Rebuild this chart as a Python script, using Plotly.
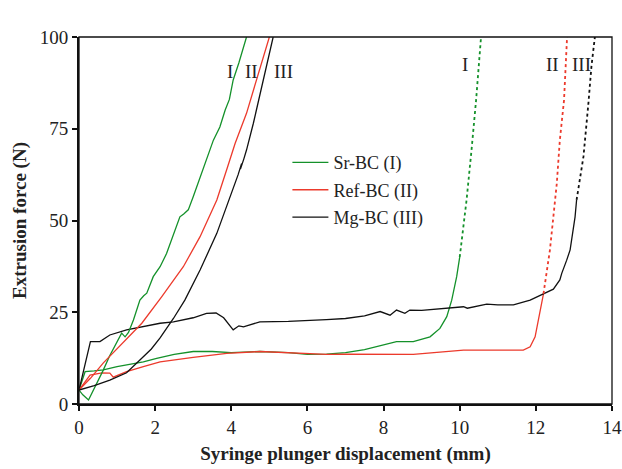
import plotly.graph_objects as go

# ---- data ----
# 0.34 mL/g (steep curves)
sr34_x = [0, 0.1, 0.25, 0.38, 0.5, 0.64, 0.8, 0.99, 1.12, 1.21, 1.3, 1.43, 1.6, 1.7, 1.78, 1.95, 2.13, 2.3, 2.43, 2.55, 2.65, 2.75, 2.87, 3.0, 3.18, 3.3, 3.53, 3.7, 3.84, 3.95, 4.05, 4.2, 4.4]
sr34_y = [3.8, 2.5, 1.1, 3.8, 6.5, 9.3, 13, 16.5, 19.3, 18.3, 19.5, 22.9, 28.3, 29.5, 30.2, 34.7, 37.4, 41, 44.7, 48.5, 51, 51.8, 52.9, 56.5, 61.9, 65.5, 71.9, 75.5, 80.1, 83, 88.3, 93, 100]

ref34_x = [0, 0.3, 0.64, 1.0, 1.3, 1.65, 2.17, 2.74, 3.18, 3.62, 3.9, 4.1, 4.4, 4.67, 5.0]
ref34_y = [3.8, 7, 11.2, 15, 18.3, 22, 29.2, 37.4, 45.6, 55.6, 64.5, 71, 79.2, 88.3, 100]

mg34_x = [0, 0.4, 0.81, 1.25, 1.6, 1.9, 2.13, 2.48, 2.78, 3.18, 3.62, 4.01, 4.18, 4.27, 4.24, 4.33, 4.4, 4.58, 4.84, 5.1]
mg34_y = [3.8, 5, 6.5, 8.5, 12, 15, 18, 23.3, 28.3, 36.5, 46.5, 57.4, 62.5, 65.5, 64, 66.8, 69.2, 76.5, 88.3, 100]

# 0.38 mL/g (plateau curves) - solid part and dotted part
sr38_x = [0, 0.08, 0.16, 0.4, 0.64, 1.0, 1.25, 1.69, 2.04, 2.5, 3.0, 3.5, 4.0, 4.75, 5.5, 6.0, 6.5, 7.0, 7.5, 7.91, 8.34, 8.78, 9.22, 9.48, 9.66, 9.79, 9.92, 10.0]
sr38_y = [3.8, 6.5, 8.8, 9.0, 9.3, 10.2, 10.6, 11.5, 12.4, 13.5, 14.3, 14.3, 14.0, 14.3, 14.0, 13.5, 13.6, 14.0, 14.8, 15.8, 17.0, 17.0, 18.3, 20.6, 23.8, 28.3, 34.7, 40]
sr38d_x = [10.0, 10.18, 10.31, 10.43, 10.56]
sr38d_y = [40, 55.6, 69.2, 82.8, 100]

ref38_x = [0, 0.29, 0.6, 0.81, 0.9, 1.25, 1.69, 2.13, 3.0, 3.88, 4.75, 5.5, 6.0, 6.5, 7.0, 7.91, 8.78, 10.1, 10.97, 11.67, 11.85, 11.98, 12.1, 12.2]
ref38_y = [3.8, 7.9, 8.5, 8.4, 7.3, 8.8, 10.2, 11.5, 12.7, 13.8, 14.3, 14.0, 13.8, 13.5, 13.6, 13.5, 13.5, 14.7, 14.7, 14.7, 15.6, 18.3, 24.7, 30]
ref38d_x = [12.2, 12.37, 12.55, 12.63, 12.74, 12.82]
ref38d_y = [30, 42, 60.1, 71.9, 82.8, 100]

mg38_x = [0, 0.1, 0.2, 0.3, 0.55, 0.81, 1.25, 2.13, 2.48, 3.0, 3.35, 3.6, 3.8, 4.05, 4.2, 4.32, 4.75, 5.5, 6.5, 7.0, 7.5, 7.91, 8.17, 8.34, 8.56, 8.69, 9.0, 9.66, 10.1, 10.2, 10.71, 11.0, 11.41, 11.85, 12.2, 12.46, 12.63, 12.68, 12.81, 12.9, 13.03, 13.07]
mg38_y = [3.8, 8, 13, 17, 17, 18.8, 20.2, 22.0, 22.4, 23.5, 24.7, 24.8, 23.5, 20.2, 21.3, 21, 22.4, 22.5, 23, 23.3, 24, 25.2, 24.2, 25.6, 24.7, 25.6, 25.5, 26.1, 26.5, 26.1, 27.2, 27, 27, 28.3, 29.9, 31.3, 33.8, 35.6, 39.2, 42, 51, 55.6]
mg38d_x = [13.07, 13.25, 13.38, 13.46, 13.55]
mg38d_y = [55.6, 67.4, 81.9, 92, 100]

series_names = ["Sr-BC (I)", "Ref-BC (II)", "Mg-BC (III)"]
x_ticks = [0, 2, 4, 6, 8, 10, 12, 14]
y_ticks = [0, 25, 50, 75, 100]

GREEN = "#14912a"
RED = "#ec3a2c"
BLACK = "#111111"
FONT = "Liberation Serif"

fig = go.Figure()

def add(x, y, color, name=None, dash="solid", show=False, group=None):
    fig.add_trace(go.Scatter(
        x=x, y=y, mode="lines", name=name, showlegend=show,
        legendgroup=group,
        line=dict(color=color, width=1.3 if dash == "solid" else 1.8, dash=dash),
        hoverinfo="skip"))

add(sr38_x, sr38_y, GREEN, series_names[0], show=True, group="g1")
add(ref38_x, ref38_y, RED, series_names[1], show=True, group="g2")
add(mg38_x, mg38_y, BLACK, series_names[2], show=True, group="g3")
add(sr34_x, sr34_y, GREEN, group="g1")
add(ref34_x, ref34_y, RED, group="g2")
add(mg34_x, mg34_y, BLACK, group="g3")
add(sr38d_x, sr38d_y, GREEN, dash="dot", group="g1")
add(ref38d_x, ref38d_y, RED, dash="dot", group="g2")
add(mg38d_x, mg38d_y, BLACK, dash="dot", group="g3")

labels = [
    (3.97, 90.5, "I"), (4.54, 90.5, "II"), (5.37, 90.5, "III"),
    (10.14, 92.4, "I"), (12.45, 92.4, "II"), (13.2, 92.4, "III"),
]
for lx, ly, t in labels:
    fig.add_annotation(x=lx, y=ly, text=t, showarrow=False, xref="x", yref="y",
                       font=dict(family=FONT, size=19, color="#222"))

for lx, t in [(4.91, "0.34 mL g<sup>-1</sup>"), (11.6, "0.38 mL g<sup>-1</sup>")]:
    fig.add_annotation(x=lx, y=104.4, text=t, showarrow=False, xref="x", yref="y",
                       font=dict(family=FONT, size=18, color="#222"))

fig.add_shape(type="rect", xref="paper", yref="paper", x0=0, y0=0, x1=1, y1=1,
              line=dict(color="#111", width=1.3), layer="above")

fig.update_layout(
    width=622, height=469,
    margin=dict(l=79, r=10, t=37, b=65, autoexpand=False),
    paper_bgcolor="white", plot_bgcolor="white",
    font=dict(family=FONT, size=19, color="#222"),
    legend=dict(x=0.391, y=0.708, xanchor="left", yanchor="top",
                font=dict(family=FONT, size=18, color="#222"),
                bgcolor="rgba(0,0,0,0)", tracegroupgap=1, itemwidth=36),
    xaxis=dict(range=[0, 14], tickvals=x_ticks, ticks="outside", ticklen=5,
               tickwidth=1.5, tickcolor="#111", showline=True, linecolor="#111",
               linewidth=2, showgrid=False, zeroline=False, automargin=False,
               ticklabeloverflow="allow",
               title=dict(text="<b>Syringe plunger displacement (mm)</b>",
                          font=dict(family=FONT, size=19, color="#222"), standoff=10),
               tickfont=dict(family=FONT, size=19, color="#222")),
    yaxis=dict(range=[0, 100], tickvals=y_ticks, ticks="outside", ticklen=5,
               tickwidth=1.5, tickcolor="#111", showline=True, linecolor="#111",
               linewidth=2, showgrid=False, zeroline=False, automargin=False,
               title=dict(text="<b>Extrusion force (N)</b>",
                          font=dict(family=FONT, size=19, color="#222"), standoff=8),
               tickfont=dict(family=FONT, size=19, color="#222")),
)

# remove the default 8px page margin so the figure fills the window exactly
fig.write_html("out.html",
               config={"displayModeBar": False},
               post_script="document.body.style.margin='0px';document.body.style.overflow='hidden';")
